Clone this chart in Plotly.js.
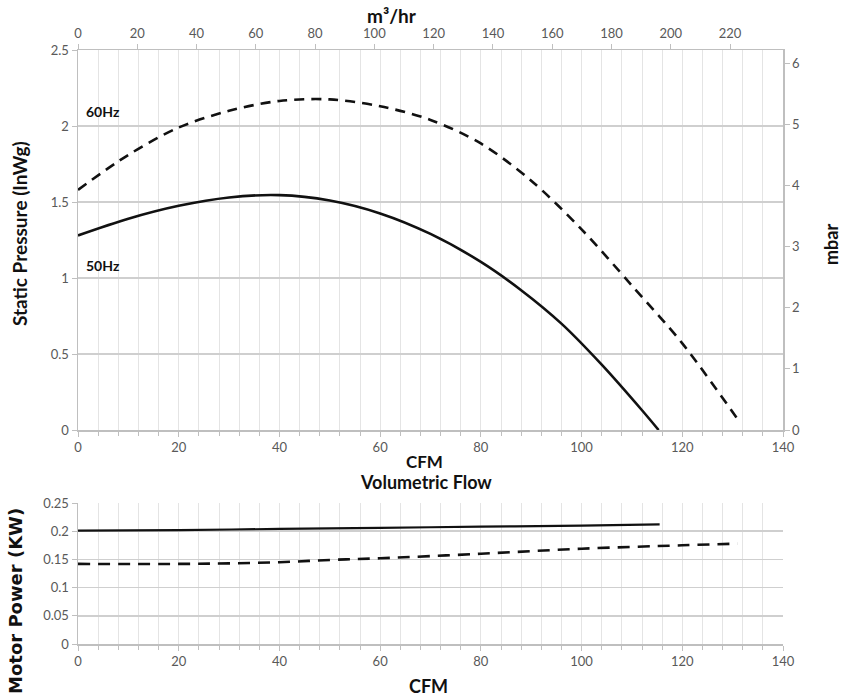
<!DOCTYPE html>
<html>
<head>
<meta charset="utf-8">
<script src="https://cdn.plot.ly/plotly-3.0.1.min.js"></script>
<style>html,body{margin:0;padding:0;background:#fff;}#chart{width:843px;height:698px;}</style>
</head>
<body>
<div id="chart"></div>
<script>
// Static pressure curves (CFM vs InWg)
const cfm50 = [0, 10, 20, 30, 40, 50, 60, 70, 80, 88, 96, 104, 112, 115.3];
const sp50  = [1.28, 1.39, 1.475, 1.53, 1.545, 1.51, 1.425, 1.29, 1.106, 0.92, 0.70, 0.43, 0.13, 0.0];
const cfm60 = [0, 10, 20, 30, 40, 50, 60, 70, 80, 90, 100, 110, 120, 130.8];
const sp60  = [1.58, 1.81, 1.99, 2.10, 2.165, 2.175, 2.13, 2.04, 1.885, 1.64, 1.32, 0.95, 0.57, 0.08];
// Motor power curves (CFM vs kW)
const pcfm50 = [0, 20, 40, 60, 80, 100, 115.5];
const pw50   = [0.201, 0.202, 0.204, 0.206, 0.208, 0.210, 0.212];
const pcfm60 = [0, 20, 30, 40, 50, 60, 80, 100, 120, 131];
const pw60   = [0.142, 0.142, 0.143, 0.145, 0.149, 0.152, 0.160, 0.169, 0.175, 0.178];
// Axis tick values
const cfmTicks = [0, 20, 40, 60, 80, 100, 120, 140];
const m3hrTicks = [0, 20, 40, 60, 80, 100, 120, 140, 160, 180, 200, 220];
const inwgTicks = [0, 0.5, 1, 1.5, 2, 2.5];
const mbarTicks = [0, 1, 2, 3, 4, 5, 6];
const kwTicks = [0, 0.05, 0.1, 0.15, 0.2, 0.25];
const seriesNames = ['50Hz', '60Hz'];

const CFM_TO_M3HR = 1.699;
const INWG_TO_MBAR = 2.4884;
const cfmMax = 140, inwgMax = 2.5;

const tickFont = {family: 'Lato, sans-serif', size: 13, color: '#595959'};
const gridMajor = '#cfcfcf';
const gridMinor = '#e4e4e4';
const axisLine = '#bfbfbf';
const titleFont = s => ({family: 'Lato, sans-serif', size: s, color: '#111', weight: 'bold'});

const L = 78, R = 783, T = 50, B = 644;
const W = R - L, H = B - T;
const px = x => (x - L) / W;
const py = y => (B - y) / H;
const topDomain = [py(430), 1];
const botDomain = [0, py(503)];

const data = [
  {x: cfm50, y: sp50, name: seriesNames[0], mode: 'lines', line: {color: '#111', width: 2.6, shape: 'spline', smoothing: 0.9}, xaxis: 'x', yaxis: 'y', showlegend: false},
  {x: cfm60, y: sp60, name: seriesNames[1], mode: 'lines', line: {color: '#111', width: 2.6, dash: '10px,7px', shape: 'spline', smoothing: 0.9}, xaxis: 'x', yaxis: 'y', showlegend: false},
  {x: pcfm50, y: pw50, name: seriesNames[0], mode: 'lines', line: {color: '#111', width: 2.2, shape: 'spline'}, xaxis: 'x2', yaxis: 'y2', showlegend: false},
  {x: pcfm60, y: pw60, name: seriesNames[1], mode: 'lines', line: {color: '#111', width: 2.6, dash: '12px,8px', shape: 'spline'}, xaxis: 'x2', yaxis: 'y2', showlegend: false},
  // invisible traces to activate secondary axes
  {x: [0, cfmMax * CFM_TO_M3HR], y: [0, 0], mode: 'lines', line: {width: 0}, hoverinfo: 'skip', xaxis: 'x3', yaxis: 'y', showlegend: false},
  {x: [0, 0], y: [0, inwgMax * INWG_TO_MBAR], mode: 'lines', line: {width: 0}, hoverinfo: 'skip', xaxis: 'x', yaxis: 'y3', showlegend: false}
];

const xBase = {
  range: [0, cfmMax], tickvals: cfmTicks, tickfont: tickFont,
  showgrid: true, gridcolor: gridMinor, gridwidth: 1,
  minor: {dtick: 4, showgrid: true, gridcolor: gridMinor, ticks: 'outside', ticklen: 4, tickcolor: axisLine},
  showline: true, linecolor: axisLine, linewidth: 1.5,
  ticks: 'outside', ticklen: 5, tickcolor: axisLine,
  zeroline: false, fixedrange: true
};
const yBase = {
  tickfont: tickFont, zeroline: false,
  showline: true, linecolor: axisLine, linewidth: 1.5,
  ticks: 'outside', ticklen: 5, tickcolor: axisLine, fixedrange: true
};

const ann = (text, x, y, font, extra) => Object.assign({
  text, xref: 'paper', yref: 'paper', x: px(x), y: py(y),
  xanchor: 'center', yanchor: 'middle', showarrow: false, font
}, extra || {});

const layout = {
  width: 843, height: 698,
  margin: {l: L, r: 843 - R, t: T, b: 698 - B},
  paper_bgcolor: '#fff', plot_bgcolor: '#fff',
  font: {family: 'Lato, sans-serif'},
  xaxis: Object.assign({}, xBase, {domain: [0, 1], anchor: 'y'}),
  xaxis2: Object.assign({}, xBase, {domain: [0, 1], anchor: 'y2'}),
  xaxis3: {
    overlaying: 'x', side: 'top', anchor: 'y', range: [0, cfmMax * CFM_TO_M3HR],
    tickvals: m3hrTicks, tickfont: tickFont, showgrid: false, zeroline: false,
    showline: true, linecolor: axisLine, linewidth: 1.5,
    ticks: 'outside', ticklen: 5, tickcolor: axisLine, fixedrange: true
  },
  yaxis: Object.assign({}, yBase, {
    domain: topDomain, anchor: 'x', range: [0, inwgMax], tickvals: inwgTicks,
    showgrid: true, gridcolor: gridMajor, gridwidth: 1.5
  }),
  yaxis3: Object.assign({}, yBase, {
    overlaying: 'y', side: 'right', anchor: 'x', range: [0, inwgMax * INWG_TO_MBAR],
    tickvals: mbarTicks, showgrid: false
  }),
  yaxis2: Object.assign({}, yBase, {
    domain: botDomain, anchor: 'x2', range: [0, 0.25], tickvals: kwTicks,
    showgrid: true, gridcolor: gridMajor, gridwidth: 1.5
  }),
  annotations: [
    ann('m³/hr', 392, 16, titleFont(19)),
    ann('CFM', 424, 462, titleFont(17)),
    ann('Volumetric Flow', 426, 482, titleFont(18)),
    ann('CFM', 428, 686, titleFont(18)),
    ann('Static Pressure (InWg)', 19, 234, titleFont(19), {textangle: -90}),
    ann('mbar', 831, 245, titleFont(18), {textangle: -90}),
    ann('Motor Power (KW)', 15, 601, {family: 'DejaVu Sans, sans-serif', size: 18, color: '#111', weight: 'bold'}, {textangle: -90}),
    ann('60Hz', 103, 111, titleFont(14)),
    ann('50Hz', 103, 265, titleFont(14))
  ]
};

Plotly.newPlot('chart', data, layout, {staticPlot: true, displayModeBar: false});
</script>
</body>
</html>
